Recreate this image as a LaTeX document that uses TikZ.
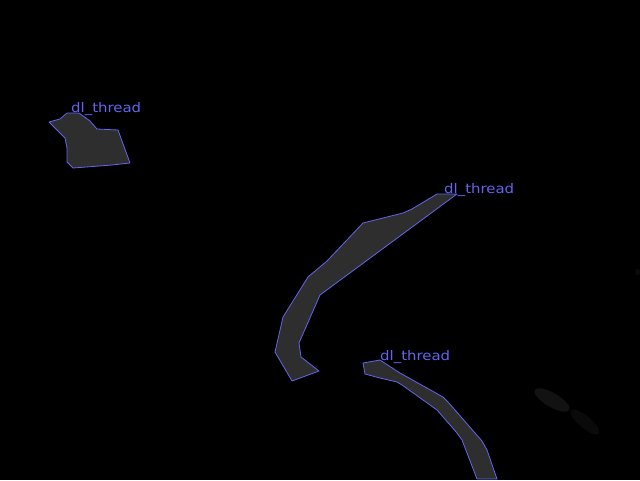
\documentclass[tikz,border=0pt]{standalone}
\usepackage{fontspec}
\usepackage{xcolor}
\usetikzlibrary{positioning}

\newfontfamily\tagfont[FakeStretch=1.13]{DejaVu Sans}
\definecolor{maskblue}{RGB}{100,100,240}

\begin{document}
\begin{tikzpicture}[x=1pt, y=-1pt,
	region/.style={draw=maskblue, fill=black!82, line width=0.8pt, line join=round},
	tag/.style={text=maskblue, font=\tagfont\fontsize{13.2}{14}\selectfont,
				anchor=base west, inner sep=0pt},
	smudge/.style={fill=white, opacity=0.07},
]
\fill [black] (0,0) rectangle (640,480);
\useasboundingbox (0,0) rectangle (640,480);
% faint background
\fill [smudge, rotate around={-30:(552,400)}] (552,400) ellipse (20 and 7);
\fill [smudge, opacity=0.04, rotate around={-40:(585,422)}] (585,422) ellipse (18 and 6);
\fill [smudge, opacity=0.04] (638,272) ellipse (3 and 3);
%
\draw [region] (49,122) -- (60,119) -- (67,113) -- (79,113) -- (90,121)
	-- (97,129) -- (118,130) -- (130,163) -- (112,165) -- (73,168)
	-- (67,162) -- (67,148) -- (65,138) -- cycle;
\draw [region] (437,194) -- (457,194) -- (320,295) -- (299,343)
	-- (301,357) -- (319,371) -- (292,381) -- (275,352) -- (283,317)
	-- (308,277) -- (327,261) -- (363,223) -- (403,213) -- (412,209) -- cycle;
\draw [region] (363,363) -- (380,360) -- (400,373) -- (443,397) -- (448,402)
	-- (482,441) -- (487,450) -- (497,479) -- (477,479) -- (462,440)
	-- (457,433) -- (437,410) -- (402,385) -- (397,382) -- (380,378)
	-- (365,374) -- cycle;
%
\node [tag] (t1) at (71,112) {dl\_thread};
\node [tag] (t2) at (444,193) {dl\_thread};
\node [tag] (t3) at (380,360) {dl\_thread};
\end{tikzpicture}
\end{document}
